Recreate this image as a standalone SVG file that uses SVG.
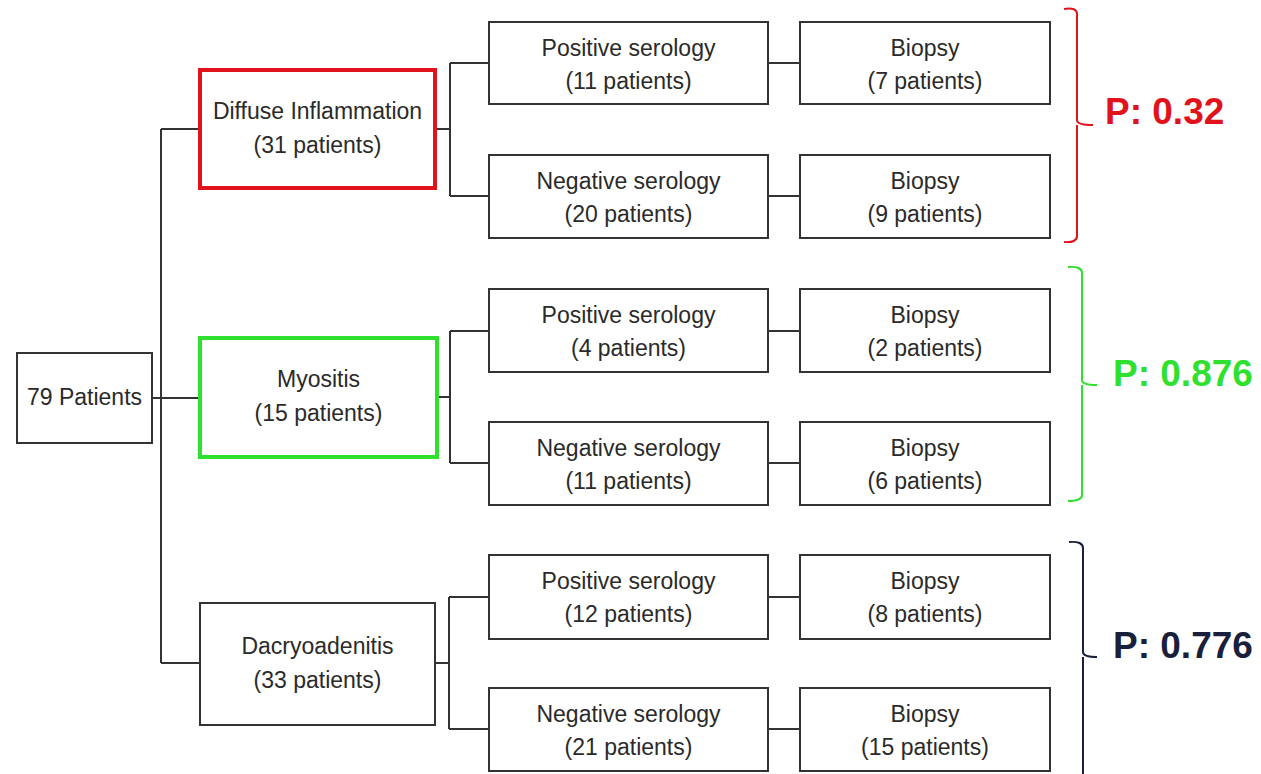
<svg xmlns="http://www.w3.org/2000/svg" width="1261" height="774" viewBox="0 0 1261 774">
<style>
.box{fill:#fff;stroke:#333;stroke-width:2}
.t{font-family:"Liberation Sans",Arial,sans-serif;font-size:23px;fill:#2a2a2a;text-anchor:middle}
.ln{fill:none;stroke:#333;stroke-width:2}
.p{font-family:"Liberation Sans",Arial,sans-serif;font-size:37px;font-weight:bold}
</style>
<rect width="1261" height="774" fill="#fff"/>
<g id="connectors">
<path class="ln" d="M152 398H161M161 129V663M161 129H200M161 398H200M161 663H200"/>
<path class="ln" d="M435 129H450M450 63V196M450 63H489M450 196H489"/>
<path class="ln" d="M437 397H450M450 331V463M450 331H489M450 463H489"/>
<path class="ln" d="M435 663H449M449 597V729M449 597H489M449 729H489"/>
<path class="ln" d="M768 63H800M768 196H800M768 331H800M768 463H800M768 597H800M768 729H800"/>
</g>
<g id="root"><rect class="box" x="17" y="353" width="135" height="90"/><text class="t" x="84.5" y="405">79 Patients</text></g>
<g id="diffuse"><rect x="200" y="70" width="235" height="118" fill="#fff" stroke="#e0121c" stroke-width="4"/><text class="t" x="317.5" y="119">Diffuse Inflammation</text><text class="t" x="317.5" y="153">(31 patients)</text></g>
<g id="myositis"><rect x="200" y="338" width="237" height="119" fill="#fff" stroke="#2fe02f" stroke-width="4"/><text class="t" x="318.5" y="387">Myositis</text><text class="t" x="318.5" y="421">(15 patients)</text></g>
<g id="dacryo"><rect class="box" x="200" y="603" width="235" height="122"/><text class="t" x="317.5" y="654">Dacryoadenitis</text><text class="t" x="317.5" y="688">(33 patients)</text></g>
<g id="pos1"><rect class="box" x="489" y="22" width="279" height="82"/><text class="t" x="628.5" y="56">Positive serology</text><text class="t" x="628.5" y="89">(11 patients)</text></g>
<g id="bio1"><rect class="box" x="800" y="22" width="250" height="82"/><text class="t" x="925" y="56">Biopsy</text><text class="t" x="925" y="89">(7 patients)</text></g>
<g id="neg1"><rect class="box" x="489" y="155" width="279" height="83"/><text class="t" x="628.5" y="189">Negative serology</text><text class="t" x="628.5" y="222">(20 patients)</text></g>
<g id="bio2"><rect class="box" x="800" y="155" width="250" height="83"/><text class="t" x="925" y="189">Biopsy</text><text class="t" x="925" y="222">(9 patients)</text></g>
<g id="pos2"><rect class="box" x="489" y="289" width="279" height="83"/><text class="t" x="628.5" y="323">Positive serology</text><text class="t" x="628.5" y="356">(4 patients)</text></g>
<g id="bio3"><rect class="box" x="800" y="289" width="250" height="83"/><text class="t" x="925" y="323">Biopsy</text><text class="t" x="925" y="356">(2 patients)</text></g>
<g id="neg2"><rect class="box" x="489" y="422" width="279" height="83"/><text class="t" x="628.5" y="456">Negative serology</text><text class="t" x="628.5" y="489">(11 patients)</text></g>
<g id="bio4"><rect class="box" x="800" y="422" width="250" height="83"/><text class="t" x="925" y="456">Biopsy</text><text class="t" x="925" y="489">(6 patients)</text></g>
<g id="pos3"><rect class="box" x="489" y="555" width="279" height="84"/><text class="t" x="628.5" y="589">Positive serology</text><text class="t" x="628.5" y="622">(12 patients)</text></g>
<g id="bio5"><rect class="box" x="800" y="555" width="250" height="84"/><text class="t" x="925" y="589">Biopsy</text><text class="t" x="925" y="622">(8 patients)</text></g>
<g id="neg3"><rect class="box" x="489" y="688" width="279" height="83"/><text class="t" x="628.5" y="722">Negative serology</text><text class="t" x="628.5" y="755">(21 patients)</text></g>
<g id="bio6"><rect class="box" x="800" y="688" width="250" height="83"/><text class="t" x="925" y="722">Biopsy</text><text class="t" x="925" y="755">(15 patients)</text></g>
<g id="brackets">
<path d="M1064 9Q1077 7 1077 14V120Q1077 125 1093 125M1077 125Q1077 130 1077 136V236Q1077 243 1064 242" fill="none" stroke="#e0121c" stroke-width="2"/>
<text class="p" x="1105" y="124" fill="#e0121c">P: 0.32</text>
<path d="M1068 267Q1082 266 1082 273V380Q1082 385 1097 385M1082 385V495Q1082 501 1068 501" fill="none" stroke="#2fe02f" stroke-width="2"/>
<text class="p" x="1113" y="386" fill="#2fe02f">P: 0.876</text>
<path d="M1069 542Q1083 541 1083 548V652Q1083 657 1097 657M1083 657V774" fill="none" stroke="#1a1f3c" stroke-width="2"/>
<text class="p" x="1113" y="658" fill="#1a1f3c">P: 0.776</text>
</g>
</svg>
